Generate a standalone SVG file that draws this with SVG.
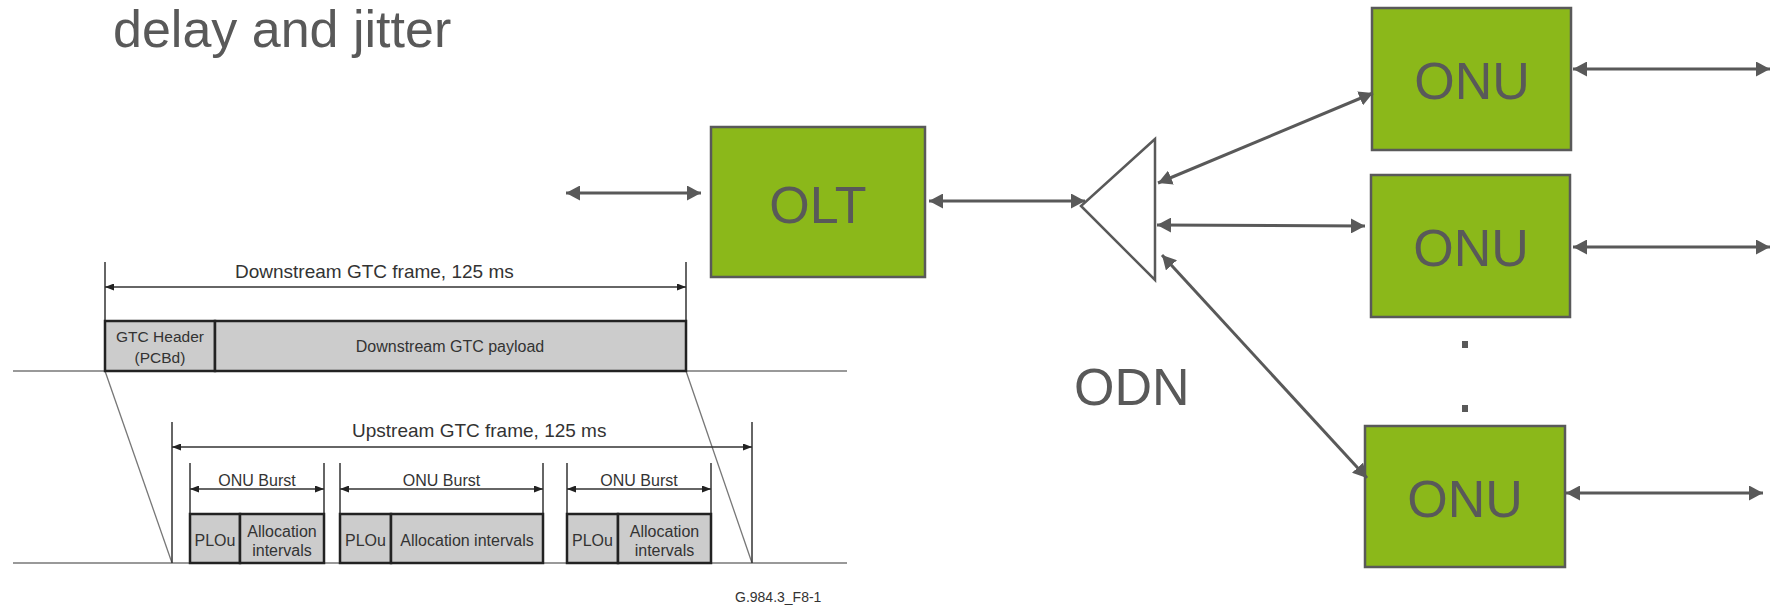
<svg xmlns="http://www.w3.org/2000/svg" width="1777" height="610" viewBox="0 0 1777 610">
<style>
.big{font-family:"Liberation Sans",Arial,sans-serif;font-size:52px;fill:#595959}
.node{fill:#8BB81A;stroke:#595959;stroke-width:2.5}
.conn{stroke:#595959;stroke-width:3;fill:none;marker-start:url(#bigA);marker-end:url(#bigA)}
.sm{font-family:"Liberation Sans",Arial,sans-serif;fill:#333}
.thin{stroke:#777;stroke-width:1.3;fill:none}
.dim{stroke:#333;stroke-width:1.5;fill:none}
.dimA{stroke:#333;stroke-width:1.5;fill:none;marker-start:url(#smA);marker-end:url(#smA)}
.box{fill:#CCCCCC;stroke:#222;stroke-width:2.5}
</style>
<defs>
<marker id="bigA" markerWidth="14" markerHeight="15" refX="14" refY="7.5" orient="auto-start-reverse" markerUnits="userSpaceOnUse"><path d="M0,0 L14,7.5 L0,15 z" fill="#595959"/></marker>
<marker id="smA" markerWidth="9" markerHeight="7" refX="9" refY="3.5" orient="auto-start-reverse" markerUnits="userSpaceOnUse"><path d="M0,0 L9,3.5 L0,7 z" fill="#222"/></marker>
</defs>
<rect width="1777" height="610" fill="#fff"/>
<text class="big" x="113" y="47">delay and jitter</text>

<g id="gtc">
<line class="thin" x1="13" y1="371" x2="847" y2="371"/>
<line class="thin" x1="13" y1="563" x2="847" y2="563"/>
<line class="thin" x1="105" y1="371" x2="172" y2="563"/>
<line class="thin" x1="686" y1="371" x2="752" y2="563"/>
<line class="dim" x1="105" y1="262" x2="105" y2="371"/>
<line class="dim" x1="686" y1="262" x2="686" y2="371"/>
<line class="dimA" x1="105" y1="287" x2="686" y2="287"/>
<text class="sm" x="235" y="278" font-size="19">Downstream GTC frame, 125 ms</text>
<rect class="box" x="105" y="321" width="110" height="50"/>
<rect class="box" x="215" y="321" width="471" height="50"/>
<text class="sm" x="160" y="342" font-size="15.5" text-anchor="middle">GTC Header</text>
<text class="sm" x="160" y="363" font-size="15.5" text-anchor="middle">(PCBd)</text>
<text class="sm" x="450" y="352" font-size="16" text-anchor="middle">Downstream GTC payload</text>

<line class="dim" x1="172" y1="422" x2="172" y2="563"/>
<line class="dim" x1="752" y1="422" x2="752" y2="563"/>
<line class="dimA" x1="172" y1="447" x2="752" y2="447"/>
<text class="sm" x="352" y="437" font-size="19">Upstream GTC frame, 125 ms</text>

<line class="dim" x1="190" y1="463" x2="190" y2="563"/>
<line class="dim" x1="324" y1="463" x2="324" y2="563"/>
<line class="dimA" x1="190" y1="489" x2="324" y2="489"/>
<text class="sm" x="257" y="486" font-size="16" text-anchor="middle">ONU Burst</text>
<rect class="box" x="190" y="514" width="50" height="49"/>
<rect class="box" x="240" y="514" width="84" height="49"/>
<text class="sm" x="215" y="546" font-size="16" text-anchor="middle">PLOu</text>
<text class="sm" x="282" y="537" font-size="16" text-anchor="middle">Allocation</text>
<text class="sm" x="282" y="556" font-size="16" text-anchor="middle">intervals</text>

<line class="dim" x1="340" y1="463" x2="340" y2="563"/>
<line class="dim" x1="543" y1="463" x2="543" y2="563"/>
<line class="dimA" x1="340" y1="489" x2="543" y2="489"/>
<text class="sm" x="441.5" y="486" font-size="16" text-anchor="middle">ONU Burst</text>
<rect class="box" x="340" y="514" width="51" height="49"/>
<rect class="box" x="391" y="514" width="152" height="49"/>
<text class="sm" x="365.5" y="546" font-size="16" text-anchor="middle">PLOu</text>
<text class="sm" x="467" y="546" font-size="16" text-anchor="middle">Allocation intervals</text>

<line class="dim" x1="567" y1="463" x2="567" y2="563"/>
<line class="dim" x1="711" y1="463" x2="711" y2="563"/>
<line class="dimA" x1="567" y1="489" x2="711" y2="489"/>
<text class="sm" x="639" y="486" font-size="16" text-anchor="middle">ONU Burst</text>
<rect class="box" x="567" y="514" width="51" height="49"/>
<rect class="box" x="618" y="514" width="93" height="49"/>
<text class="sm" x="592.5" y="546" font-size="16" text-anchor="middle">PLOu</text>
<text class="sm" x="664.5" y="537" font-size="16" text-anchor="middle">Allocation</text>
<text class="sm" x="664.5" y="556" font-size="16" text-anchor="middle">intervals</text>

<text class="sm" x="735" y="602" font-size="14" fill="#555">G.984.3_F8-1</text>
</g>

<g id="olt">
<rect class="node" x="711" y="127" width="214" height="150"/>
<text class="big" x="818" y="223" text-anchor="middle">OLT</text>
</g>
<g id="splitter">
<path d="M1155,139 L1081,206 L1155,280 Z" fill="#fff" stroke="#595959" stroke-width="2.5" stroke-linejoin="miter"/>
</g>
<g id="odn-label">
<text class="big" x="1074" y="405">ODN</text>
</g>
<g id="onu1">
<rect class="node" x="1372" y="8" width="199" height="142"/>
<text class="big" x="1472" y="99" text-anchor="middle">ONU</text>
</g>
<g id="onu2">
<rect class="node" x="1371" y="175" width="199" height="142"/>
<text class="big" x="1471" y="266" text-anchor="middle">ONU</text>
</g>
<g id="onu3">
<rect class="node" x="1365" y="426" width="200" height="141"/>
<text class="big" x="1465" y="517" text-anchor="middle">ONU</text>
</g>
<g id="dots" fill="#595959">
<rect x="1462" y="341" width="6" height="7"/>
<rect x="1462" y="405" width="6" height="7"/>
</g>

<g id="connectors">
<line class="conn" x1="566" y1="193" x2="701" y2="193"/>
<line class="conn" x1="929" y1="201" x2="1085" y2="201"/>
<line class="conn" x1="1158" y1="183" x2="1373" y2="93"/>
<line class="conn" x1="1157" y1="225" x2="1365" y2="226"/>
<line class="conn" x1="1162" y1="255" x2="1367" y2="478"/>
<line class="conn" x1="1573" y1="69" x2="1770" y2="69"/>
<line class="conn" x1="1573" y1="247" x2="1770" y2="247"/>
<line class="conn" x1="1566" y1="493" x2="1763" y2="493"/>
</g>
</svg>
